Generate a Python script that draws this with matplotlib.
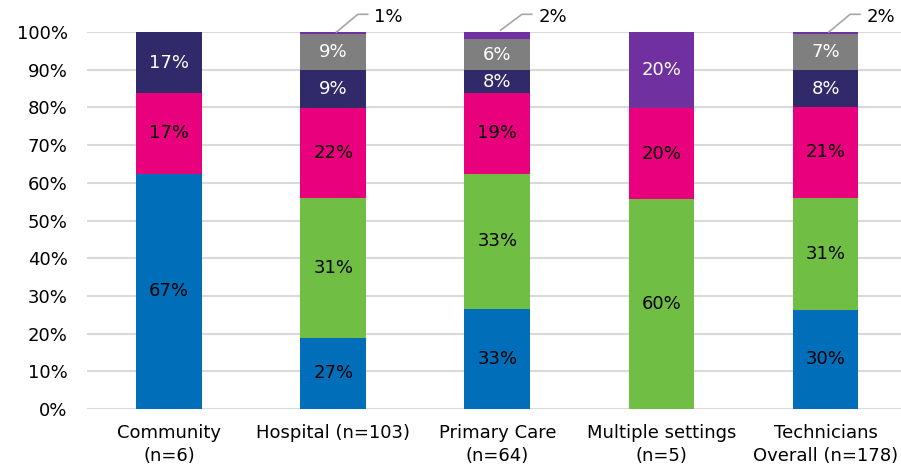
import matplotlib.pyplot as plt
import numpy as np

plt.rcParams['font.family'] = ['DejaVu Sans']

categories = ["Community\n(n=6)", "Hospital (n=103)", "Primary Care\n(n=64)",
              "Multiple settings\n(n=5)", "Technicians\nOverall (n=178)"]

# segment heights as drawn in the picture (share of bar, %)
blue   = [62.4, 18.9, 26.5, 0.0, 26.3]
green  = [0.0, 37.1, 35.9, 55.7, 29.8]
pink   = [21.4, 23.9, 21.4, 24.1, 23.9]
navy   = [16.2, 10.0, 6.1, 0.0, 10.0]
grey   = [0.0, 9.5, 8.2, 0.0, 9.5]
purple = [0.0, 0.6, 2.4, 20.2, 0.5]

# labels printed on the segments
blue_lbl   = ["67%", "27%", "33%", "", "30%"]
green_lbl  = ["", "31%", "33%", "60%", "31%"]
pink_lbl   = ["17%", "22%", "19%", "20%", "21%"]
navy_lbl   = ["17%", "9%", "8%", "", "8%"]
grey_lbl   = ["", "9%", "6%", "", "7%"]
purple_lbl = ["", "1%", "2%", "20%", "2%"]

series = [
    (blue, blue_lbl, "#006EB9", "black"),
    (green, green_lbl, "#70BF44", "black"),
    (pink, pink_lbl, "#E8007D", "black"),
    (navy, navy_lbl, "#312A6A", "white"),
    (grey, grey_lbl, "#7F7F7F", "white"),
    (purple, purple_lbl, "#7030A0", "white"),
]

FS = 13

fig = plt.figure(figsize=(9.01, 4.71), dpi=100)
ax = fig.add_axes([0.0966, 0.1316, 0.9034, 0.8004])

x = np.arange(len(categories))
bottom = np.zeros(len(categories))
for vals, lbls, col, tcol in series:
    vals = np.array(vals)
    ax.bar(x, vals, 0.4, bottom=bottom, color=col, zorder=2)
    for i in range(len(x)):
        if lbls[i] and vals[i] > 4:
            ax.text(x[i], bottom[i] + vals[i] / 2, lbls[i], ha='center', va='center',
                    color=tcol, fontsize=FS, zorder=3)
        elif lbls[i]:
            # small top segment: callout with leader line
            top = bottom[i] + vals[i]
            ax.plot([x[i] + 0.02, x[i] + 0.15, x[i] + 0.21], [top, 104.7, 104.7],
                    color='#A6A6A6', lw=1.2, clip_on=False, zorder=3)
            ax.text(x[i] + 0.25, 104.0, lbls[i], ha='left', va='center',
                    color='black', fontsize=FS, clip_on=False)
    bottom += vals

ax.set_ylim(0, 100)
ax.set_xlim(-0.5, 4.46)
ax.set_yticks(np.arange(0, 101, 10))
ax.set_yticklabels([f"{v}%" for v in range(0, 101, 10)], fontsize=FS)
ax.set_xticks(x)
ax.set_xticklabels(categories, fontsize=FS, linespacing=1.35)
ax.tick_params(length=0)
ax.tick_params(axis='y', pad=14)
ax.tick_params(axis='x', pad=11)
ax.grid(axis='y', color='#D9D9D9', lw=1.5, zorder=0)
for s in ax.spines.values():
    s.set_visible(False)

fig.savefig("out.png", dpi=100)
